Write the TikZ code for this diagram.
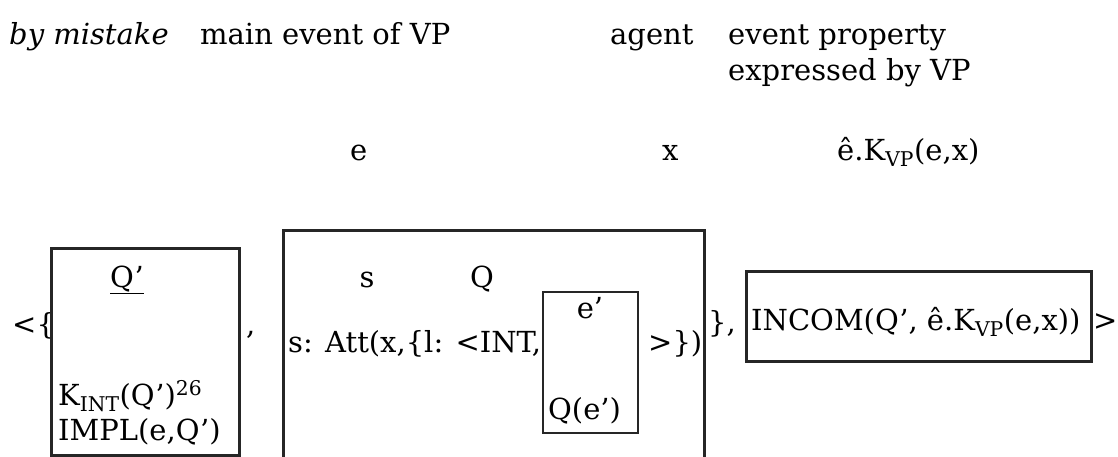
\documentclass[tikz,border=0pt]{standalone}
\usepackage{fontspec}
\setmainfont{DejaVu Serif}
\usetikzlibrary{positioning}

\begin{document}
\begin{tikzpicture}[
    x=1pt, y=-1pt,
    txt/.style={inner sep=0pt, anchor=base west, font=\fontsize{29}{34}\selectfont},
    mid/.style={txt, anchor=base},
    frame/.style={draw=black!85, line width=2.6pt, inner sep=0pt, anchor=north west},
    thinframe/.style={frame, line width=2.2pt}
]
    \useasboundingbox (0,0) rectangle (1118,456);
    \clip (0,0) rectangle (1118,456);
    \fill[white] (0,0) rectangle (1118,456);

    % Cabecalho (linha superior)
    \node[txt, font=\fontsize{29}{34}\selectfont\itshape] (mistake) at (9,44) {by mistake};
    \node[txt] (mainev) at (200,44) {main event of VP};
    \node[txt] (agent) at (610,44) {agent};
    \node[txt] (evprop) at (728,44) {event property};
    \node[txt, below=36pt of evprop.base west, anchor=base west] (exprvp) {expressed by VP};

    % Variaveis
    \node[txt] (evar) at (350,160) {e};
    \node[txt] (xvar) at (662,160) {x};
    \node[txt] (lambda) at (837,160) {ê.K\textsubscript{VP}(e,x)};

    % Caixas da representacao
    \node[txt] (open) at (12,334) {<\{};
    \node[frame, minimum width=188pt, minimum height=207pt] (box1) at (50,247) {};
    \node[mid] (qprime) at (127,287) {\underline{Q’}};
    \node[txt] (kint) at (58,405) {K\textsubscript{INT}(Q’)\textsuperscript{26}};
    \node[txt] (impl) at (58,440) {IMPL(e,Q’)};
    \node[txt] (comma1) at (246,334) {,};

    \node[frame, minimum width=421pt, minimum height=260pt] (box2) at (282,229) {};
    \node[mid] (svar) at (367,287) {s};
    \node[mid] (qvar) at (482,287) {Q};
    \node[txt] (att) at (288,352) {s: Att(x,\{l: <INT,};
    \node[thinframe, minimum width=95pt, minimum height=141pt] (box3) at (542,291) {};
    \node[mid] (eprime) at (590,318) {e’};
    \node[txt] (qe) at (548,419) {Q(e’)};
    \node[txt] (close1) at (648,352) {>\})};
    \node[txt] (comma2) at (708,332) {\},};

    \node[frame, minimum width=345pt, minimum height=90pt] (box4) at (745,270) {};
    \node[txt] (incom) at (751,330) {INCOM(Q’, ê.K\textsubscript{VP}(e,x))};
    \node[txt] (close2) at (1093,330) {>};

\end{tikzpicture}
\end{document}
